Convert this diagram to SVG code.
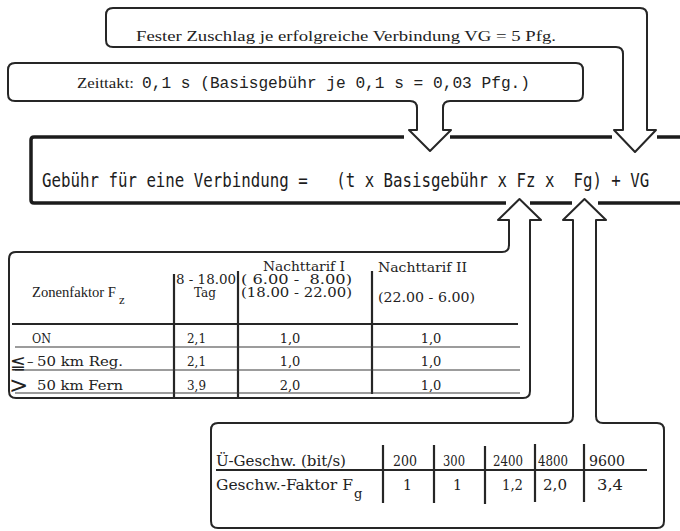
<svg xmlns="http://www.w3.org/2000/svg" width="680" height="531" viewBox="0 0 680 531">
  <style>
    .box { fill: none; stroke: #262626; stroke-width: 2; stroke-linejoin: round; stroke-linecap: round; }
    .main { fill: none; stroke: #1c1c1c; stroke-width: 3.5; stroke-linecap: butt; stroke-linejoin: round; }
    .rule { stroke: #262626; stroke-width: 2.2; }
    .thin { stroke: #3a3a3a; stroke-width: 1.2; }
    .serif { font-family: "Liberation Serif", "DejaVu Serif", serif; fill: #222; }
    .type { font-family: "DejaVu Serif", "Liberation Serif", serif; fill: #222; }
    .tw { font-family: "Liberation Mono", "DejaVu Sans Mono", monospace; fill: #222; }
    .plot { font-family: "DejaVu Sans Mono", "Liberation Mono", monospace; fill: #1c1c1c; }
    .sym { font-family: "DejaVu Sans", "Liberation Sans", sans-serif; fill: #222; }
  </style>

  <!-- fixed surcharge per connection -->
  <g id="vg-box">
    <path class="box" d="M623,54 Q623,47 616,47 L113,47 Q106,47 106,40 L106,15 Q106,8 113,8 L640,8 Q647,8 647,15"/>
    <text class="serif" x="136" y="41" font-size="15" textLength="420" lengthAdjust="spacingAndGlyphs">Fester Zuschlag je erfolgreiche Verbindung VG = 5 Pfg.</text>
  </g>

  <!-- time unit and base charge -->
  <g id="zeittakt-box">
    <path class="box" d="M417,108 Q417,101 410,101 L15,101 Q8,101 8,94 L8,70 Q8,63 15,63 L576,63 Q583,63 583,70 L583,94 Q583,101 576,101 L450,101 Q443,101 443,108"/>
    <text class="serif" x="77" y="88" font-size="15" textLength="57" lengthAdjust="spacingAndGlyphs">Zeittakt:</text>
    <text class="tw" x="142" y="88" font-size="16" textLength="388" lengthAdjust="spacingAndGlyphs">0,1 s (Basisgebühr je 0,1 s = 0,03 Pfg.)</text>
  </g>

  <!-- charge formula -->
  <g id="formula">
    <path class="main" d="M404,137 L34,137 Q31,137 31,140 L31,200 Q31,203 34,203 L506,203"/>
    <path class="main" d="M450,137 L612,137 M657,137 L682,137 M530,203 L572,203 M598,203 L682,203"/>
    <text class="plot" transform="translate(42,187) scale(0.986,1.19)" x="0" y="0" font-size="16" xml:space="preserve">Gebühr für eine Verbindung =   (t x Basisgebühr x Fz x  Fg) + VG</text>
  </g>

  <!-- zone factor table -->
  <g id="zone-table">
    <path class="box" d="M509,245 Q509,252 502,252 L16,252 Q9,252 9,259 L9,391 Q9,398 16,398 L523,398 Q530,398 530,391 L530,222"/>
    <line class="rule" x1="174" y1="274" x2="174" y2="397"/>
    <line class="rule" x1="238" y1="271" x2="238" y2="397"/>
    <line class="rule" x1="372" y1="271" x2="372" y2="394"/>
    <line class="rule" x1="12" y1="324" x2="518" y2="324"/>
    <line class="thin" x1="15" y1="347" x2="520" y2="347"/>
    <line class="thin" x1="15" y1="370" x2="520" y2="370"/>
    <line class="thin" x1="15" y1="393" x2="520" y2="393"/>

    <text class="type" x="263" y="271" font-size="12" textLength="82" lengthAdjust="spacingAndGlyphs">Nachttarif I</text>
    <text class="type" x="378" y="272" font-size="12" textLength="89" lengthAdjust="spacingAndGlyphs">Nachttarif II</text>
    <text class="type" x="176" y="284" font-size="12" textLength="60" lengthAdjust="spacingAndGlyphs">8 - 18.00</text>
    <text class="type" x="241" y="284" font-size="12" textLength="111" lengthAdjust="spacingAndGlyphs" xml:space="preserve">( 6.00 -  8.00)</text>
    <text class="serif" x="32" y="297" font-size="14" textLength="84" lengthAdjust="spacingAndGlyphs">Zonenfaktor F</text>
    <text class="type" x="119" y="304" font-size="10.5">z</text>
    <text class="type" x="205" y="297" font-size="12" text-anchor="middle">Tag</text>
    <text class="type" x="241" y="297" font-size="12" textLength="111" lengthAdjust="spacingAndGlyphs">(18.00 - 22.00)</text>
    <text class="type" x="378" y="302" font-size="12" textLength="97" lengthAdjust="spacingAndGlyphs">(22.00 - 6.00)</text>

    <text class="type" x="32" y="343" font-size="13" textLength="19" lengthAdjust="spacingAndGlyphs">ON</text>
    <text class="type" x="187" y="343" font-size="13" textLength="19" lengthAdjust="spacingAndGlyphs">2,1</text>
    <text class="type" x="290" y="343" font-size="13" text-anchor="middle">1,0</text>
    <text class="type" x="431" y="343" font-size="13" text-anchor="middle">1,0</text>

    <text class="sym" x="10" y="369" font-size="19">≦</text>
    <text class="type" x="27" y="366" font-size="13">–</text>
    <text class="type" x="37" y="366" font-size="13" textLength="86" lengthAdjust="spacingAndGlyphs">50 km Reg.</text>
    <text class="type" x="187" y="366" font-size="13" textLength="19" lengthAdjust="spacingAndGlyphs">2,1</text>
    <text class="type" x="290" y="366" font-size="13" text-anchor="middle">1,0</text>
    <text class="type" x="431" y="366" font-size="13" text-anchor="middle">1,0</text>

    <text class="sym" x="9" y="393" font-size="23">&gt;</text>
    <text class="type" x="37" y="390" font-size="13" textLength="86" lengthAdjust="spacingAndGlyphs">50 km Fern</text>
    <text class="type" x="187" y="390" font-size="13" textLength="19" lengthAdjust="spacingAndGlyphs">3,9</text>
    <text class="type" x="290" y="390" font-size="13" text-anchor="middle">2,0</text>
    <text class="type" x="431" y="390" font-size="13" text-anchor="middle">1,0</text>
  </g>

  <!-- transmission speed factor table -->
  <g id="speed-table">
    <path class="box" d="M573,416 Q573,423 566,423 L218,423 Q211,423 211,430 L211,521 Q211,528 218,528 L657,528 Q664,528 664,521 L664,430 Q664,423 657,423 L603,423 Q596,423 596,416"/>
    <line class="rule" x1="216" y1="470" x2="647" y2="470"/>
    <line class="rule" x1="383" y1="445" x2="383" y2="503"/>
    <line class="rule" x1="434" y1="445" x2="434" y2="503"/>
    <line class="rule" x1="485" y1="446" x2="485" y2="504"/>
    <line class="rule" x1="535" y1="444" x2="535" y2="502"/>
    <line class="rule" x1="584" y1="444" x2="584" y2="502"/>

    <text class="type" x="216" y="466" font-size="14" textLength="130" lengthAdjust="spacingAndGlyphs">Ü-Geschw. (bit/s)</text>
    <text class="type" x="393" y="466" font-size="14" textLength="24" lengthAdjust="spacingAndGlyphs">200</text>
    <text class="type" x="443" y="466" font-size="14" textLength="22" lengthAdjust="spacingAndGlyphs">300</text>
    <text class="type" x="493" y="466" font-size="14" textLength="30" lengthAdjust="spacingAndGlyphs">2400</text>
    <text class="type" x="538" y="466" font-size="14" textLength="30" lengthAdjust="spacingAndGlyphs">4800</text>
    <text class="type" x="589" y="466" font-size="14" textLength="36" lengthAdjust="spacingAndGlyphs">9600</text>

    <text class="type" x="216" y="490" font-size="14" textLength="137" lengthAdjust="spacingAndGlyphs">Geschw.-Faktor F</text>
    <text class="type" x="354" y="498" font-size="13">g</text>
    <text class="type" x="403" y="490" font-size="14">1</text>
    <text class="type" x="453" y="490" font-size="14">1</text>
    <text class="type" x="502" y="490" font-size="14" textLength="21" lengthAdjust="spacingAndGlyphs">1,2</text>
    <text class="type" x="543" y="490" font-size="14" textLength="24" lengthAdjust="spacingAndGlyphs">2,0</text>
    <text class="type" x="597" y="490" font-size="14" textLength="26" lengthAdjust="spacingAndGlyphs">3,4</text>
  </g>

  <!-- hollow arrows feeding the formula -->
  <g id="connectors">
    <path class="box" d="M623,54 L623,130 L614,130 L635,152 L656,130 L647,130 L647,15"/>
    <path class="box" d="M417,108 L417,130 L409,130 L430,151 L451,130 L443,130 L443,108"/>
    <path class="box" d="M509,245 L509,220 L498,220 L519.5,199 L541,220 L530,220 L530,222"/>
    <path class="box" d="M573,416 L573,220 L563,220 L584.5,199 L606,220 L596,220 L596,416"/>
  </g>
</svg>
